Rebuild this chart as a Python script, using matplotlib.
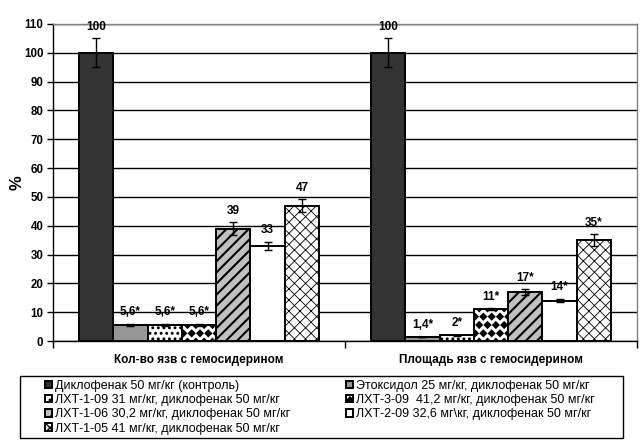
import numpy as np
import matplotlib
matplotlib.use("Agg")
import matplotlib.pyplot as plt
import matplotlib.hatch as mhatch
from matplotlib.path import Path
from matplotlib.patches import Rectangle

plt.rcParams['font.family'] = ['Liberation Sans', 'DejaVu Sans']

# data
categories = ["Кол-во язв с гемосидерином", "Площадь язв с гемосидерином"]
series = [
    "Диклофенак 50 мг/кг (контроль)",
    "Этоксидол 25 мг/кг, диклофенак 50 мг/кг",
    "ЛХТ-1-09 31 мг/кг, диклофенак 50 мг/кг",
    "ЛХТ-3-09  41,2 мг/кг, диклофенак 50 мг/кг",
    "ЛХТ-1-06 30,2 мг/кг, диклофенак 50 мг/кг",
    "ЛХТ-2-09 32,6 мг\\кг, диклофенак 50 мг/кг",
    "ЛХТ-1-05 41 мг/кг, диклофенак 50 мг/кг",
]
values = [
    [100, 100],
    [5.6, 1.4],
    [5.6, 2],
    [5.6, 11],
    [39, 17],
    [33, 14],
    [47, 35],
]
errors = [
    [5, 5],
    [0.3, 0.1],
    [0.3, 0.1],
    [0.3, 0.4],
    [2.2, 1.0],
    [1.5, 0.6],
    [2.2, 2.0],
]
labels = [
    ["100", "100"],
    ["5,6*", "1,4*"],
    ["5,6*", "2*"],
    ["5,6*", "11*"],
    ["39", "17*"],
    ["33", "14*"],
    ["47", "35*"],
]
yticks = list(range(0, 111, 10))

# styles: (face, hatch, hatch linewidth)
styles = [
    ("#333333", None, 1.0),
    ("#969696", None, 1.0),
    ("white", "...", 1.0),
    ("white", "**", 1.0),
    ("#c0c0c0", "///", 1.5),
    ("white", None, 1.0),
    ("white", "xxx", 0.6),
]


# filled diamonds instead of stars for the '*' hatch
class Diamonds(mhatch.Shapes):
    size = 0.75
    filled = True

    def __init__(self, hatch, density):
        self.num_rows = hatch.count('*') * density
        self.shape_vertices = np.array([[0, -0.5], [0.5, 0], [0, 0.5],
                                        [-0.5, 0], [0, -0.5]])
        self.shape_codes = np.array([Path.MOVETO, Path.LINETO, Path.LINETO,
                                     Path.LINETO, Path.CLOSEPOLY],
                                    dtype=Path.code_type)
        super().__init__(hatch, density)


mhatch._hatch_types[mhatch._hatch_types.index(mhatch.Stars)] = Diamonds
mhatch.SmallFilledCircles.size = 0.14

fig = plt.figure(figsize=(6.43, 4.44), dpi=100)
ax = fig.add_axes([53 / 643, 1 - 341 / 444, 584 / 643, 317 / 444])

x = np.arange(len(categories))
w = 0.1175
handles = []
for i, name in enumerate(series):
    face, hatch, hlw = styles[i]
    with plt.rc_context({'hatch.linewidth': hlw, 'hatch.color': 'black'}):
        bars = ax.bar(x + (i - 3) * w, values[i], w, color=face,
                      edgecolor="black", linewidth=1.4, hatch=hatch,
                      label=name, zorder=3)
        for b in bars:
            if hasattr(b, "set_hatch_linewidth"):
                b.set_hatch_linewidth(hlw)
    ax.errorbar(x + (i - 3) * w, values[i], yerr=errors[i], fmt="none",
                ecolor="black", elinewidth=1, capsize=3, capthick=1, zorder=4)
    for j in range(len(categories)):
        ax.annotate(labels[i][j], (x[j] + (i - 3) * w, values[i][j] + errors[i][j]),
                    xytext=(0, 4), textcoords="offset points", ha="center",
                    va="bottom", fontsize=8.5, fontweight="bold", zorder=5)
    handles.append(bars[0])

ax.set_xlim(-0.5, len(categories) - 0.5)
ax.set_ylim(0, 110)
ax.set_yticks(yticks)
ax.set_yticklabels([str(t) for t in yticks], fontsize=8.3, fontweight="bold")
ax.yaxis.grid(True, color="black", linewidth=1, zorder=0)
ax.set_axisbelow(True)

ax.set_xticks(np.arange(-0.5, len(categories), 1))
ax.set_xticklabels([])
ax.set_xticks(x, minor=True)
ax.set_xticklabels(categories, minor=True, fontsize=8.5, fontweight="bold")
ax.tick_params(axis="x", which="major", direction="out", length=5, width=1, color="black")
ax.tick_params(axis="x", which="minor", length=0, pad=9)
ax.tick_params(axis="y", direction="out", length=4, width=1, color="black", pad=3)

for s in ["top", "right"]:
    ax.spines[s].set_color("#808080")
    ax.spines[s].set_linewidth(1)
for s in ["left", "bottom"]:
    ax.spines[s].set_color("black")
    ax.spines[s].set_linewidth(1)

ax.set_ylabel("%", fontsize=12, fontweight="bold")
ax.yaxis.set_label_coords(-0.048, 0.5)

# legend box and entries (rows go left-right)
fig.patches.append(Rectangle((20 / 643, 1 - 438 / 444), 603 / 643, 62 / 444,
                             transform=fig.transFigure, facecolor="white",
                             edgecolor="black", linewidth=1))
order = [0, 2, 4, 6, 1, 3, 5]
fig.legend([handles[k] for k in order], [series[k] for k in order],
           loc="upper left", bbox_to_anchor=(36 / 643, 1 - 371 / 444),
           ncol=2, frameon=False, fontsize=9, handlelength=0.55,
           handleheight=0.55, handletextpad=0.3, labelspacing=0.18,
           columnspacing=4.4, borderpad=0.2)

fig.savefig("out.png", dpi=100)
